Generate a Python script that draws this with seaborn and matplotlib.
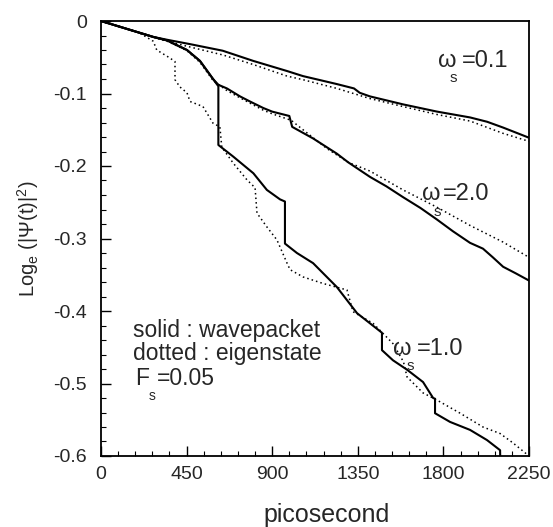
import numpy as np
import pandas as pd
import matplotlib
matplotlib.use("Agg")
import matplotlib.pyplot as plt
import seaborn as sns
from matplotlib.ticker import MultipleLocator

# ---------------- data ----------------
# omega_s = 0.1
t_w01_solid = [0, 50, 100, 150, 200, 275, 350, 470, 640, 800, 978, 1062, 1240, 1330, 1360,
               1414, 1588, 1767, 1940, 2030, 2114, 2250]
y_w01_solid = [0, -0.004, -0.008, -0.012, -0.016, -0.022, -0.026, -0.032, -0.041, -0.055, -0.069,
               -0.076, -0.087, -0.093, -0.099, -0.104, -0.115, -0.125, -0.133, -0.139, -0.147, -0.161]
t_w01_dot = [0, 100, 200, 275, 350, 470, 643, 800, 978, 1062, 1240, 1414, 1588, 1767, 1940,
             2114, 2250]
y_w01_dot = [0, -0.008, -0.016, -0.022, -0.028, -0.036, -0.047, -0.060, -0.076, -0.081, -0.093,
             -0.107, -0.118, -0.129, -0.138, -0.155, -0.166]

# omega_s = 2.0
t_w20_solid = [0, 50, 100, 150, 200, 275, 350, 380, 452, 520, 556, 589, 617, 662, 731, 783, 853,
               900, 990, 1005, 1115, 1240, 1300, 1414, 1500, 1588, 1680, 1767, 1850, 1940,
               2008, 2060, 2114, 2180, 2250]
y_w20_solid = [0, -0.004, -0.008, -0.012, -0.016, -0.022, -0.027, -0.031, -0.040, -0.055, -0.068,
               -0.080, -0.088, -0.093, -0.104, -0.111, -0.120, -0.125, -0.131, -0.146, -0.162,
               -0.183, -0.195, -0.215, -0.228, -0.243, -0.258, -0.274, -0.290, -0.306,
               -0.314, -0.326, -0.339, -0.348, -0.358]
t_w20_dot = [0, 100, 200, 275, 350, 452, 520, 589, 662, 731, 853, 900, 1000, 1062, 1188, 1300,
             1414, 1588, 1767, 1940, 2114, 2250]
y_w20_dot = [0, -0.008, -0.016, -0.022, -0.028, -0.041, -0.057, -0.082, -0.096, -0.106, -0.123,
             -0.128, -0.137, -0.150, -0.176, -0.195, -0.207, -0.233, -0.257, -0.282, -0.305,
             -0.326]

# omega_s = 1.0
t_w10_solid = [0, 50, 100, 150, 200, 275, 350, 380, 452, 520, 556, 589, 617, 617, 695, 801,
               872, 941, 967, 967, 1030, 1115, 1240, 1346, 1414, 1477, 1477, 1535, 1609, 1693,
               1746, 1756, 1756, 1835, 1940, 2029, 2098, 2100]
y_w10_solid = [0, -0.004, -0.008, -0.012, -0.016, -0.022, -0.027, -0.031, -0.040, -0.055, -0.068,
               -0.080, -0.090, -0.171, -0.187, -0.210, -0.233, -0.246, -0.249, -0.307, -0.320,
               -0.334, -0.367, -0.403, -0.417, -0.430, -0.454, -0.468, -0.481, -0.498,
               -0.520, -0.521, -0.541, -0.553, -0.564, -0.578, -0.592, -0.62]
t_w10_dot = [0, 100, 200, 275, 293, 362, 389, 389, 415, 452, 468, 536, 589, 625, 635, 695, 767,
             810, 820, 872, 925, 978, 994, 1062, 1167, 1293, 1325, 1430, 1483, 1535, 1590,
             1609, 1693, 1767, 1888, 2008, 2098, 2166, 2250]
y_w10_dot = [0, -0.008, -0.016, -0.028, -0.040, -0.051, -0.056, -0.081, -0.091, -0.099, -0.111,
             -0.118, -0.141, -0.146, -0.174, -0.196, -0.219, -0.230, -0.265, -0.284, -0.302,
             -0.334, -0.343, -0.353, -0.362, -0.371, -0.401, -0.417, -0.431, -0.445, -0.470,
             -0.491, -0.513, -0.523, -0.541, -0.560, -0.569, -0.582, -0.600]

x_ticks = [0, 450, 900, 1350, 1800, 2250]
x_tick_labels = ["0", "450", "900", "1350", "1800", "2250"]
y_ticks = [0, -0.1, -0.2, -0.3, -0.4, -0.5, -0.6]
y_tick_labels = ["0", "-0.1", "-0.2", "-0.3", "-0.4", "-0.5", "-0.6"]

# ---------------- style ----------------
sns.set_style("ticks")
plt.rcParams["font.family"] = ["Liberation Sans", "DejaVu Sans"]
plt.rcParams["mathtext.fontset"] = "custom"
plt.rcParams["mathtext.rm"] = "Liberation Sans"
plt.rcParams["mathtext.it"] = "Liberation Sans"
plt.rcParams["axes.unicode_minus"] = False

fig = plt.figure(figsize=(5.53, 5.27), dpi=100)
ax = fig.add_axes([101 / 553, 1 - 456 / 527, 428 / 553, 435 / 527])

solid_kw = dict(color="black", linewidth=1.5, estimator=None, sort=False, ax=ax)
dot_kw = dict(color="black", linewidth=1.1, estimator=None, sort=False, ax=ax,
              linestyle=(0, (1, 2)))

sns.lineplot(x=t_w01_solid, y=y_w01_solid, **solid_kw)
sns.lineplot(x=t_w01_dot, y=y_w01_dot, **dot_kw)
sns.lineplot(x=t_w20_solid, y=y_w20_solid, **solid_kw)
sns.lineplot(x=t_w20_dot, y=y_w20_dot, **dot_kw)
sns.lineplot(x=t_w10_solid, y=y_w10_solid, **solid_kw)
sns.lineplot(x=t_w10_dot, y=y_w10_dot, **dot_kw)

ax.set_xlim(0, 2250)
ax.set_ylim(-0.6, 0)
ax.set_xticks(x_ticks)
ax.set_xticklabels(x_tick_labels)
ax.set_yticks(y_ticks)
ax.set_yticklabels(y_tick_labels)
ax.xaxis.set_minor_locator(MultipleLocator(90))
ax.yaxis.set_minor_locator(MultipleLocator(0.02))
ax.tick_params(which="major", direction="in", length=7, width=1.0, labelsize=14, color="black")
ax.tick_params(axis="y", which="major", pad=10)
ax.tick_params(axis="x", which="major", pad=7)
ax.tick_params(which="minor", direction="in", length=3.5, width=0.8, color="black")
for s in ax.spines.values():
    s.set_visible(True)
    s.set_linewidth(1.3)
    s.set_color("black")

ax.set_xlabel("picosecond", fontsize=18)
ax.xaxis.set_label_coords(0.526, -0.108)
ax.set_ylabel("")
ax.text(-0.171, 0.5, r"Log$_{\mathregular{e}}$ (|Ψ(t)|$^{\mathregular{2}}$)", transform=ax.transAxes,
        rotation=90, ha="center", va="center", fontsize=14.5)

# curve labels
big = 17
small = 11
def wlabel(xw, yb, xs, ys, xv, txt):
    ax.text(xw, yb, "ω", transform=ax.transAxes, fontsize=big, ha="left", va="baseline")
    ax.text(xs, ys, "s", transform=ax.transAxes, fontsize=small, ha="left", va="baseline")
    ax.text(xv, yb, txt, transform=ax.transAxes, fontsize=big, ha="left", va="baseline")

wlabel(0.787, 0.894, 0.815, 0.860, 0.843, "=0.1")
wlabel(0.750, 0.589, 0.778, 0.552, 0.799, "=2.0")
wlabel(0.682, 0.232, 0.713, 0.198, 0.738, "=1.0")

ax.text(0.075, 0.274, "solid : wavepacket", transform=ax.transAxes, fontsize=16.5,
        ha="left", va="baseline")
ax.text(0.075, 0.221, "dotted : eigenstate", transform=ax.transAxes, fontsize=16.5,
        ha="left", va="baseline")
ax.text(0.079, 0.163, "F", transform=ax.transAxes, fontsize=16.5, ha="left", va="baseline")
ax.text(0.112, 0.129, "s", transform=ax.transAxes, fontsize=10, ha="left", va="baseline")
ax.text(0.131, 0.163, "=0.05", transform=ax.transAxes, fontsize=16.5, ha="left", va="baseline")

fig.savefig("out.png", dpi=100)
